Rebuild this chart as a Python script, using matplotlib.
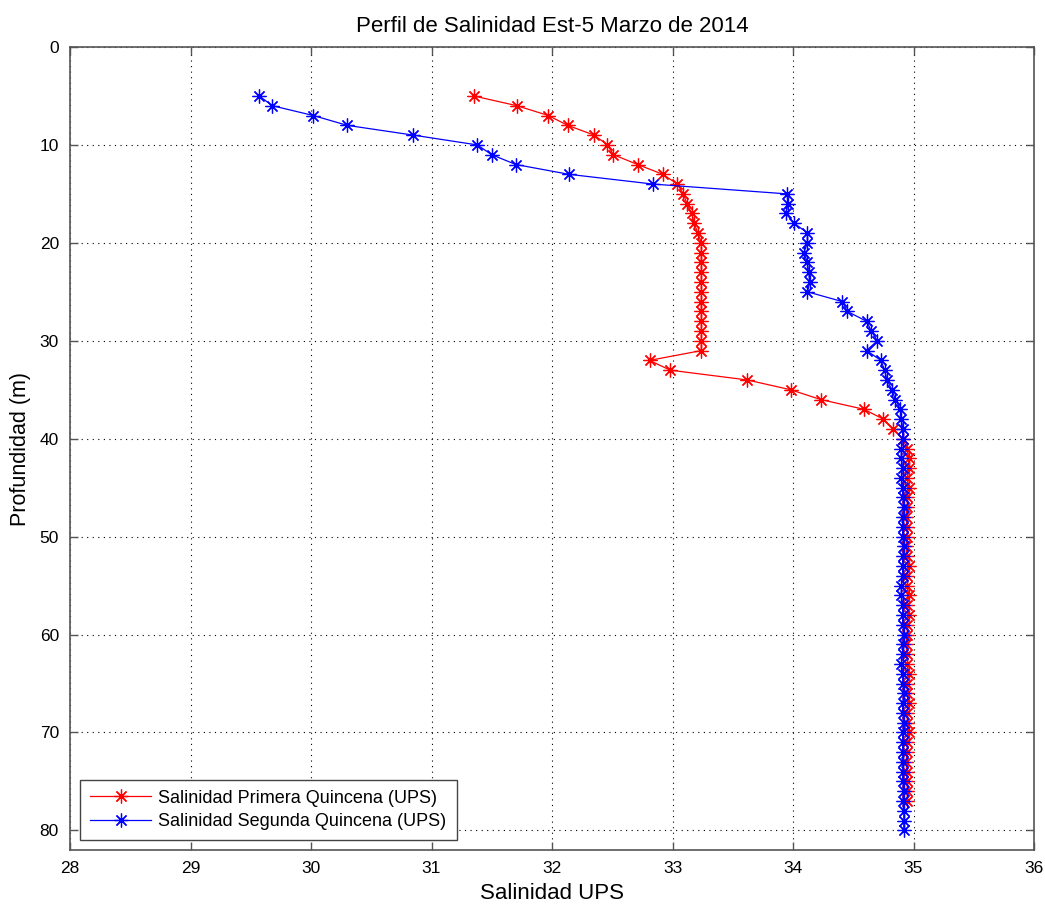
import numpy as np
import matplotlib
matplotlib.use('Agg')
import matplotlib.pyplot as plt

plt.rcParams['font.family'] = ['Liberation Sans', 'DejaVu Sans']

# Primera quincena: salinity (UPS) at 1 m steps starting at 5 m
sal_primera = [
    31.35, 31.71, 31.97, 32.13, 32.35, 32.46, 32.51, 32.71, 32.92, 33.04,
    33.09, 33.12, 33.16, 33.18, 33.21, 33.24, 33.24, 33.24, 33.24, 33.24,
    33.24, 33.24, 33.24, 33.24, 33.24, 33.24, 33.24, 32.81, 32.98, 33.62,
    33.98, 34.23, 34.59, 34.75, 34.83, 34.91,
    34.95, 34.96, 34.96, 34.95, 34.96, 34.95, 34.95, 34.94, 34.95, 34.95,
    34.94, 34.95, 34.96, 34.95, 34.95, 34.96, 34.95, 34.96, 34.95, 34.95,
    34.94, 34.95, 34.95, 34.96, 34.95, 34.95, 34.96, 34.95, 34.95, 34.96,
    34.95, 34.95, 34.94, 34.95, 34.95, 34.95, 34.95,
]
depth_primera = np.arange(5, 5 + len(sal_primera))

# Segunda quincena
sal_segunda = [
    29.57, 29.68, 30.02, 30.30, 30.85, 31.38, 31.50, 31.70, 32.14, 32.84,
    33.95, 33.96, 33.94, 34.01, 34.12, 34.12, 34.09, 34.12, 34.13, 34.14,
    34.12, 34.41, 34.45, 34.61, 34.65, 34.70, 34.61, 34.73, 34.76, 34.78,
    34.82, 34.85, 34.89, 34.90,
    34.91, 34.91, 34.90, 34.90, 34.91, 34.90, 34.91, 34.91, 34.92, 34.91,
    34.91, 34.91, 34.92, 34.91, 34.91, 34.91, 34.90, 34.90, 34.91, 34.91,
    34.91, 34.92, 34.91, 34.91, 34.90, 34.91, 34.91, 34.92, 34.91, 34.91,
    34.92, 34.91, 34.91, 34.91, 34.91, 34.91, 34.91, 34.92, 34.91, 34.92,
    34.92, 34.92,
]
depth_segunda = np.arange(5, 5 + len(sal_segunda))

xticks = np.arange(28, 37, 1)
yticks = np.arange(0, 81, 10)

fig = plt.figure(figsize=(10.45, 9.07), dpi=100)
ax = fig.add_axes([70 / 1045, 1 - 850 / 907, 964 / 1045, 803 / 907])

star = (8, 2, 0)
ax.plot(sal_primera, depth_primera, color='red', lw=0.9, marker=star,
        ms=10, mew=0.9, label='Salinidad Primera Quincena (UPS)')
ax.plot(sal_segunda, depth_segunda, color='blue', lw=0.9, marker=star,
        ms=10, mew=0.9, label='Salinidad Segunda Quincena (UPS)')

ax.set_xlim(28, 36)
ax.set_ylim(82, 0)
ax.set_xticks(xticks)
ax.set_yticks(yticks)
ax.tick_params(direction='in', top=True, right=True, length=6,
               width=1, color='#555555', labelsize=12.5, pad=8)
for s in ax.spines.values():
    s.set_color('#555555')
    s.set_linewidth(1.2)
ax.grid(True, color='black', linestyle=(0, (1, 4)), linewidth=0.8)

ax.set_title('Perfil de Salinidad Est-5 Marzo de 2014', fontsize=16, pad=11)
ax.set_xlabel('Salinidad UPS', fontsize=16, labelpad=5)
ax.set_ylabel('Profundidad (m)', fontsize=15.5, labelpad=6)

leg = ax.legend(loc='lower left', fontsize=13, fancybox=False,
                framealpha=1, edgecolor='#444444', handlelength=3.4,
                handletextpad=0.4, borderaxespad=0.55, borderpad=0.55,
                labelspacing=0.35)
leg.get_frame().set_linewidth(1.0)

fig.savefig('out.png', dpi=100)
